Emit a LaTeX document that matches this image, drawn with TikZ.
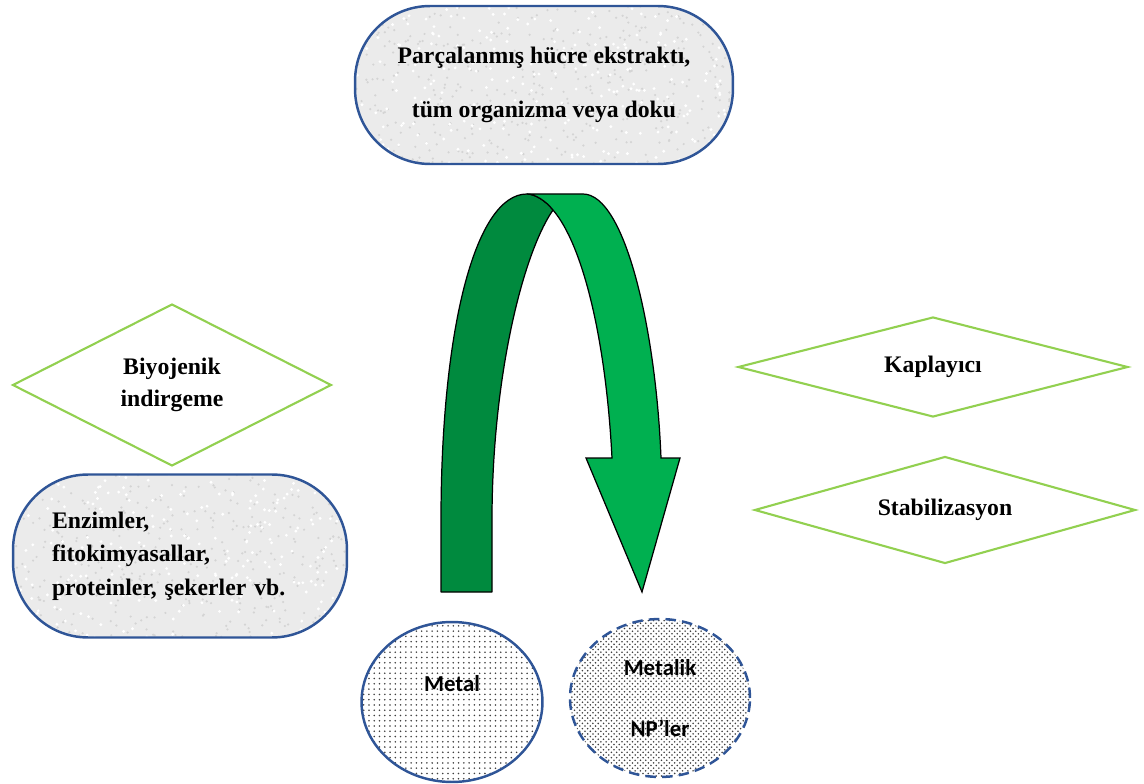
\documentclass[tikz,border=0pt]{standalone}
\usepackage{fontspec}
\setmainfont{Liberation Serif}
\newfontfamily\calibri{Carlito}
\usepackage{xcolor}
\usetikzlibrary{shapes.geometric,patterns,calc}

\definecolor{boxblue}{HTML}{2F5597}
\definecolor{leafgreen}{HTML}{92D050}
\definecolor{arrowdark}{HTML}{008A3E}
\definecolor{arrowlight}{HTML}{00B050}

\pgfmathsetseed{7}
\tikzset{
  extract/.style={rectangle, rounded corners=1.5cm, draw=boxblue, line width=1.4pt, fill=black!8,
    font=\bfseries\fontsize{13.5}{18}\selectfont,
    path picture={
      \foreach \k in {1,...,450}
        \fill[black!17] ($(path picture bounding box.center)+(rand*4cm,rand*1.7cm)$) circle (0.7pt);
      \foreach \k in {1,...,300}
        \fill[white] ($(path picture bounding box.center)+(rand*4cm,rand*1.7cm)$) circle (0.9pt);
    }},
  role/.style={diamond, draw=leafgreen, line width=1.2pt, inner sep=0pt, align=center,
    font=\bfseries\fontsize{13.5}{18}\selectfont},
  particle/.style={ellipse, draw=boxblue, line width=1.4pt, inner sep=0pt, align=center,
    font=\calibri\bfseries\fontsize{13}{34.6}\selectfont}
}

\begin{document}
\begin{tikzpicture}[x=0.02cm, y=-0.02cm]
\useasboundingbox (0,0) rectangle (1144,784);

\node[extract, minimum width=7.56cm, minimum height=3.16cm, align=center] (extrakt) at (544,85)
  {Parçalanmış hücre ekstraktı,\\[13pt] tüm organizma veya doku};
\node[role, aspect=1.97, minimum width=6.38cm, minimum height=3.24cm] (biyojenik) at (172,385) {Biyojenik\\indirgeme};
\node[extract, minimum width=6.68cm, minimum height=3.26cm, align=left, text width=5.12cm,
  font=\bfseries\fontsize{13.5}{19}\selectfont] (enzim) at (180,556)
  {Enzimler,\\fitokimyasallar,\\proteinler, şekerler vb.};
\node[role, aspect=3.9, minimum width=7.8cm, minimum height=2cm] (kaplayici) at (933,367) {Kaplayıcı};
\node[role, aspect=3.56, minimum width=7.62cm, minimum height=2.14cm] (stabil) at (945,510) {Stabilizasyon};

\node[particle, minimum width=3.62cm, minimum height=3.2cm, pattern=dots, pattern color=black!75] (metal) at (452,702)
  {Metal\\[-14pt]\mbox{}};
\node[particle, minimum width=3.6cm, minimum height=3.16cm, dash pattern=on 6pt off 3.5pt,
  pattern=crosshatch dots, pattern color=black!75] (np) at (660,698) {Metalik\\NP’ler};

\draw[fill=arrowdark, line width=0.7pt, line join=round] (441,592) -- (441,520) .. controls (441,330) and (475,194) .. (527,194)
  .. controls (535,194) and (546,201) .. (553,210) .. controls (522,255) and (492,380) .. (492,520) -- (492,592) -- cycle;
\draw[fill=arrowlight, line width=0.7pt, line join=miter] (527,194) -- (583,194) .. controls (625,194) and (656,330) .. (661,458)
  -- (680,458) -- (642,592) -- (586,458) -- (612,458) .. controls (606,340) and (583,245) .. (553,210)
  .. controls (546,201) and (535,194) .. (527,194) -- cycle;
\end{tikzpicture}
\end{document}
